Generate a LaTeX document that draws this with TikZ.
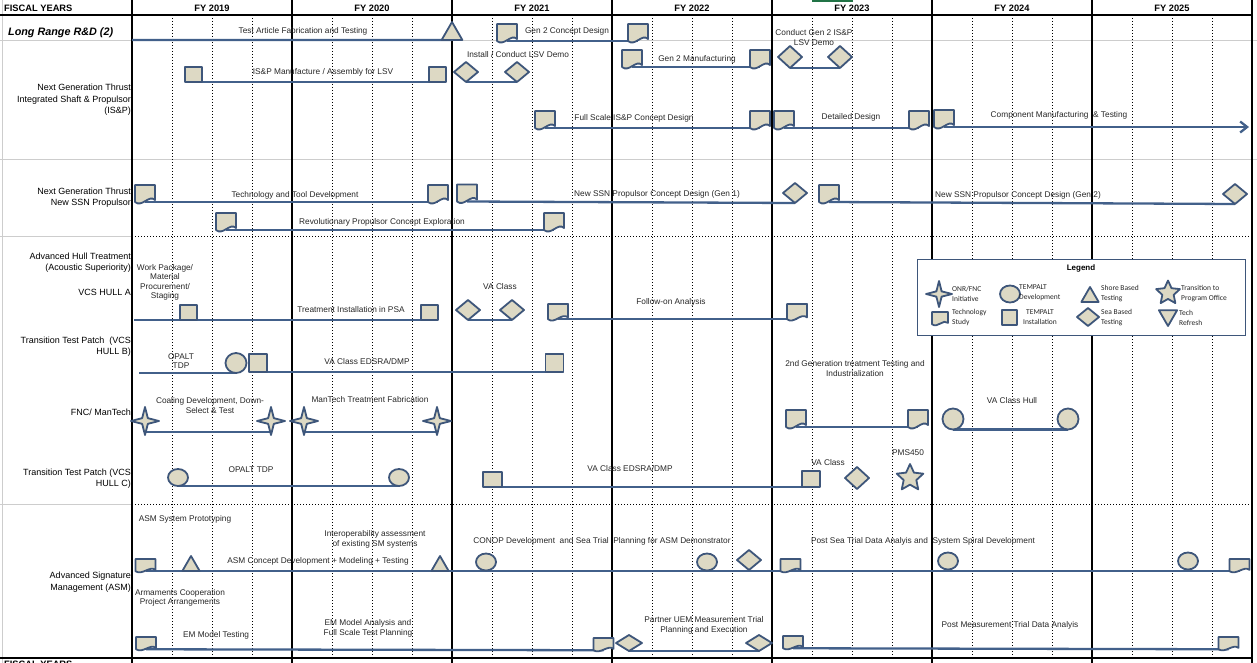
\documentclass[tikz,border=0pt]{standalone}
\usepackage{fontspec}
\setmainfont{Liberation Sans}
\newfontfamily\legendfont{Carlito}
\usetikzlibrary{shapes.geometric,shapes.misc,arrows.meta}
\definecolor{barline}{RGB}{66,96,138}
\definecolor{shapeline}{RGB}{62,86,122}
\definecolor{shapefill}{RGB}{221,217,196}
\definecolor{gridgray}{RGB}{205,205,205}
\definecolor{selgreen}{RGB}{33,115,70}
\pgfdeclarelayer{grid}
\pgfdeclarelayer{bars}
\pgfsetlayers{grid,bars,main}
\tikzset{
  qline/.style={black, line width=1pt, dash pattern=on 1pt off 2pt},
  yline/.style={black, line width=2.2pt},
  hdr/.style={font=\bfseries\fontsize{9.3}{10}\selectfont, inner sep=0},
  lbl/.style={font=\fontsize{8.3}{9.5}\selectfont, text=black!85, align=center, inner sep=0},
  rowlbl/.style={font=\fontsize{9}{11.5}\selectfont, align=right, anchor=east, inner sep=0},
  legtxt/.style={font=\legendfont\fontsize{7.5}{10}\selectfont, text=black!85, align=left, anchor=west, inner sep=0},
  bar/.style={draw=barline, line width=2.3pt},
  shapebox/.style={draw=shapeline, fill=shapefill, line width=1.8pt, line join=round, inner sep=0, outer sep=0},
  sq/.style={shapebox, rectangle, minimum width=17pt, minimum height=15pt},
  dmd/.style={shapebox, diamond, minimum width=24pt, minimum height=20pt},
  oval/.style={shapebox, ellipse, minimum width=21pt, minimum height=19pt},
  tri/.style={shapebox, regular polygon, regular polygon sides=3, minimum size=24pt},
  onr/.style={shapebox, star, star points=4, star point ratio=3.5, minimum size=28pt},
  pstar/.style={shapebox, star, star points=5, star point ratio=2.1, minimum size=28pt},
  pics/techdoc/.style={code={
    \path[shapebox] (-10,-9) -- (10,-9) -- (10,6) .. controls (4,0) and (-3,14) .. (-10,8) -- cycle;
    \coordinate (-b) at (0,8);
  }},
}
\begin{document}
\begin{tikzpicture}[x=1pt,y=-1pt]
\useasboundingbox (0,0) rectangle (1257,663);
\begin{pgfonlayer}{grid}
  % rows
  \draw[gridgray] (2,0) -- (2,663);
  \draw[gridgray] (0,40) -- (1257,40);
  \draw[gridgray] (0,159) -- (1257,159);
  \draw[gridgray] (0,236) -- (132,236);
  \draw[gridgray] (0,504) -- (132,504);
  \draw[qline] (132,236) -- (1252,236);
  \draw[qline] (132,504) -- (1252,504);
  \fill[selgreen] (812,0) rectangle (853,2);
  % quarters
  \foreach \x in {132,292,...,1092}
    \foreach \q in {40,80,120}
      \draw[qline] (\x+\q,15) -- (\x+\q,658);
  % years
  \foreach \x in {132,292,...,1252}
    \draw[yline] (\x,0) -- (\x,663);
  \draw[yline] (0,15) -- (1252,15);
  \draw[yline] (0,658) -- (1252,658);
\end{pgfonlayer}

% header
\node[hdr, anchor=west] (fy) at (4,8) {FISCAL YEARS};
\foreach \y [count=\i] in {2019,...,2025}
  \node[hdr] (fy\y) at (52+160*\i,8) {FY \y};
\node[hdr, anchor=west] (fyb) at (4,664) {FISCAL YEARS};

% row labels
\node[font=\bfseries\itshape\fontsize{10.8}{12}\selectfont, anchor=west, inner sep=0] (r1) at (8,33) {Long Range R\&D (2)};
\node[rowlbl] (r2) at (131,100) {Next Generation Thrust\\Integrated Shaft \& Propulsor\\(IS\&P)};
\node[rowlbl] (r3) at (131,197.5) {Next Generation Thrust\\New SSN Propulsor};
\node[rowlbl] (r4) at (131,262.5) {Advanced Hull Treatment\\(Acoustic Superiority)};
\node[rowlbl] (r4b) at (131,292) {VCS HULL A};
\node[rowlbl] (r5) at (131,346.5) {Transition Test Patch~ (VCS\\HULL B)};
\node[rowlbl] (r6) at (131,412) {FNC/ ManTech};
\node[rowlbl] (r7) at (131,478.5) {Transition Test Patch (VCS\\HULL C)};
\node[rowlbl] (r8) at (131,582) {Advanced Signature\\Management (ASM)};

% long range
\coordinate (lr0) at (132,40);
\node[tri] (lr1) at (452,34) {};
\pic (gc1) at (507,33) {techdoc};
\pic (gc2) at (638,33) {techdoc};
\node[lbl] (t1) at (303,31) {Test Article Fabrication and Testing};
\node[lbl] (t2) at (567,31) {Gen 2 Concept Design};

% is&p
\node[sq] (isp1) at (193.5,74.5) {};
\node[sq] (isp2) at (437.5,74.5) {};
\node[dmd] (lsv1) at (466,72) {};
\node[dmd] (lsv2) at (517,72) {};
\pic (gm1) at (632,59) {techdoc};
\pic (gm2) at (760,59) {techdoc};
\node[dmd, minimum height=22pt] (gd1) at (790,57) {};
\node[dmd, minimum height=22pt] (gd2) at (840,57) {};
\pic (fs1) at (545,120) {techdoc};
\pic (fs2) at (760,120) {techdoc};
\pic (dd1) at (784,120) {techdoc};
\pic (dd2) at (919,120) {techdoc};
\pic (cm1) at (944,119) {techdoc};
\coordinate (cmend) at (1249,127);
\node[lbl] (t3) at (323,72) {IS\&P Manufacture / Assembly for LSV};
\node[lbl] (t4) at (518,55) {Install / Conduct LSV Demo};
\node[lbl] (t5) at (697,59) {Gen 2 Manufacturing};
\node[lbl] (t6) at (814,37.5) {Conduct Gen 2 IS\&P\\LSV Demo};
\node[lbl] (t7) at (634,118) {Full Scale IS\&P Concept Design};
\node[lbl] (t8) at (851,117) {Detailed Design};
\node[lbl] (t9) at (1059,115) {Component Manufacturing~ \& Testing};

% new ssn
\pic (td1) at (145,194) {techdoc};
\pic (td2) at (438,194) {techdoc};
\pic (ga1) at (467,193.5) {techdoc};
\node[dmd] (ga2) at (795,193) {};
\pic (gb1) at (829,194) {techdoc};
\node[dmd] (gb2) at (1235,194) {};
\pic (rp1) at (226,222) {techdoc};
\pic (rp2) at (554,222) {techdoc};
\node[lbl] (t10) at (295,195) {Technology and Tool Development};
\node[lbl] (t11) at (657,194) {New SSN Propulsor Concept Design (Gen 1)};
\node[lbl] (t12) at (1018,195) {New SSN Propulsor Concept Design (Gen 2)};
\node[lbl] (t13) at (382,222) {Revolutionary Propulsor Concept Exploration};

% hull a
\coordinate (ha0) at (134,320);
\node[sq] (ha1) at (188.5,312.5) {};
\node[sq] (ha2) at (429.5,312.5) {};
\node[dmd] (va1) at (468,310) {};
\node[dmd] (va2) at (512,310) {};
\pic[yscale=.9] (fo1) at (558,312) {techdoc};
\pic[yscale=.9] (fo2) at (797,312) {techdoc};
\node[lbl] (t14) at (165,282.5) {Work Package/\\Material\\Procurement/\\Staging};
\node[lbl] (t15) at (500,287) {VA Class};
\node[lbl] (t16) at (351,310) {Treatment Installation in PSA};
\node[lbl] (t17) at (671,302) {Follow-on Analysis};

% hull b
\coordinate (hb0) at (139,373);
\node[oval, minimum height=20pt] (hb1) at (236,363) {};
\node[sq, minimum width=18pt, minimum height=18pt] (hb2) at (258,363) {};
\node[sq, minimum width=18pt, minimum height=18pt] (hb3) at (554.5,363) {};
\node[lbl] (t18) at (181,361) {OPALT\\TDP};
\node[lbl] (t19) at (367,362) {VA Class EDSRA/DMP};
\node[lbl] (t20) at (855,368.5) {2nd Generation treatment Testing and\\Industrialization};

% mantech
\node[onr] (fn1) at (145,421) {};
\node[onr] (fn2) at (271,421) {};
\node[onr] (fn3) at (304,421) {};
\node[onr] (fn4) at (437,421) {};
\pic (gg1) at (796,419) {techdoc};
\pic (gg2) at (918,419) {techdoc};
\node[oval, minimum height=21pt] (vh1) at (953,419) {};
\node[oval, minimum height=21pt] (vh2) at (1068,419) {};
\node[lbl] (t21) at (210,405.5) {Coaling Development, Down-\\Select \& Test};
\node[lbl] (t22) at (370,400) {ManTech Treatment Fabrication};
\node[lbl] (t23) at (1012,401) {VA Class Hull};

% hull c
\node[oval, minimum width=20pt, minimum height=17pt] (hc1) at (178,477.5) {};
\node[oval, minimum width=20pt, minimum height=17pt] (hc2) at (399,477.5) {};
\node[sq, minimum width=19pt] (hc3) at (492.5,479.5) {};
\node[sq, minimum width=18pt, minimum height=16pt] (hc4) at (811,479) {};
\node[dmd, minimum height=22pt] (hc5) at (857,478) {};
\node[pstar] (hc6) at (910,478) {};
\node[lbl] (t24) at (251,470) {OPALT TDP};
\node[lbl] (t25) at (630,469) {VA Class EDSRA/DMP};
\node[lbl] (t26) at (828,463) {VA Class};
\node[lbl] (t27) at (908,453) {PMS450};

% asm
\pic[yscale=.72] (am1) at (145.5,565.5) {techdoc};
\node[tri, minimum size=20pt] (am2) at (191,566) {};
\node[tri, minimum size=20pt] (am3) at (440,566) {};
\node[oval, minimum width=20pt, minimum height=17pt] (am4) at (486,562) {};
\node[oval, minimum width=20pt, minimum height=17pt] (am5) at (707,562) {};
\node[dmd] (am7) at (749,560) {};
\pic[yscale=.72] (am8) at (790.5,565.5) {techdoc};
\node[oval, minimum width=20pt, minimum height=17pt] (am9) at (948,561) {};
\node[oval, minimum width=20pt, minimum height=17pt] (am10) at (1188,561) {};
\pic[yscale=.72] (am6) at (1239.5,565.5) {techdoc};
\pic[yscale=.72] (em1) at (146,643.5) {techdoc};
\pic[yscale=.72] (em2) at (603.5,644.5) {techdoc};
\node[dmd, minimum width=26pt, minimum height=16pt] (em3) at (629,643) {};
\node[dmd, minimum width=26pt, minimum height=16pt] (em4) at (759,643) {};
\pic[yscale=.72] (em5) at (793,642.5) {techdoc};
\pic[yscale=.72] (em6) at (1228.5,643.5) {techdoc};
\node[lbl] (t28) at (185,519) {ASM System Prototyping};
\node[lbl] (t29) at (375,539.5) {Interoperability assessment\\of existing SM systems};
\node[lbl] (t30) at (318,561) {ASM Concept Development + Modeling + Testing};
\node[lbl] (t31) at (602,541) {CONOP Development~ and Sea Trial~ Planning for ASM Demonstrator};
\node[lbl] (t32) at (923,541) {Post Sea Trial Data Analyis and~ System Spiral Development};
\node[lbl] (t33) at (180,598) {Armaments Cooperation\\Project Arrangements};
\node[lbl] (t34) at (216,635) {EM Model Testing};
\node[lbl] (t35) at (368,628.5) {EM Model Analysis and\\Full Scale Test Planning};
\node[lbl] (t36) at (704,625.5) {Partner UEM Measurement Trial\\Planning and Execution};
\node[lbl] (t37) at (1010,625) {Post Measurement Trial Data Analyis};

% bars
\begin{pgfonlayer}{bars}
  \draw[bar] (lr0) -- (lr1.south);
  \draw[bar] (gc1-b) -- (gc2-b);
  \draw[bar] (isp1.south) -- (isp2.south);
  \draw[bar] (lsv1.south) -- (lsv2.south);
  \draw[bar] (gm1-b) -- (gm2-b);
  \draw[bar] (gd1.south) -- (gd2.south);
  \draw[bar] (fs1-b) -- (fs2-b);
  \draw[bar] (dd1-b) -- (dd2-b);
  \draw[bar, -{Straight Barb[length=7pt,width=11pt]}] (cm1-b) -- (cmend);
  \draw[bar] (td1-b) -- (td2-b);
  \draw[bar] (ga1-b) -- (ga2.south);
  \draw[bar] (gb1-b) -- (gb2.south);
  \draw[bar] (rp1-b) -- (rp2-b);
  \draw[bar] (ha0) -- (ha2.south);
  \draw[bar] (va1.south) -- (va2.south);
  \draw[bar] (fo1-b) -- (fo2-b);
  \draw[bar] (hb0) -- (hb1.south);
  \draw[bar] (hb2.south) -- (hb3.south);
  \draw[bar] ([yshift=-11pt]fn1.center) -- ([yshift=-11pt]fn2.center);
  \draw[bar] ([yshift=-11pt]fn3.center) -- ([yshift=-11pt]fn4.center);
  \draw[bar] (gg1-b) -- (gg2-b);
  \draw[bar] (vh1.south) -- (vh2.south);
  \draw[bar] (hc1.south) -- (hc2.south);
  \draw[bar] (hc3.south) -- (hc4.south);
  \draw[bar] (am1-b) -- (am6-b);
  \draw[bar] (em1-b) -- (em2-b);
  \draw[bar] (em3.south) -- (em4.south);
  \draw[bar] (em5-b) -- (em6-b);
\end{pgfonlayer}

% legend
\node[draw=shapeline, fill=white, line width=1pt, minimum width=328pt, minimum height=76pt, inner sep=0] (leg) at (1081,297) {};
\node[font=\bfseries\fontsize{8}{9}\selectfont, inner sep=0] (legt) at (1081,268) {Legend};
\node[onr, minimum size=26pt] (lg1) at (939,294) {};
\node[legtxt] (lgt1) at (952,293.5) {ONR/FNC\\Initiative};
\node[oval, minimum width=20pt, minimum height=17pt] (lg2) at (1010,294) {};
\node[legtxt] (lgt2) at (1019,293) {TEMPALT\\Development};
\node[tri, minimum size=20pt] (lg3) at (1090,297) {};
\node[legtxt] (lgt3) at (1101,293.5) {Shore Based\\Testing};
\node[pstar, minimum size=25pt] (lg4) at (1168,293) {};
\node[legtxt] (lgt4) at (1181,293.5) {Transition to\\Program Office};
\pic[xscale=.8, yscale=.72] (lg5) at (940,318.5) {techdoc};
\node[legtxt] (lgt5) at (952,317.5) {Technology\\Study};
\node[sq, minimum width=15pt, minimum height=15pt] (lg6) at (1009.5,317.5) {};
\node[legtxt, anchor=center, align=center] (lgt6) at (1040,317) {TEMPALT\\Installation};
\node[dmd, minimum width=22pt, minimum height=18pt] (lg7) at (1088,317) {};
\node[legtxt] (lgt7) at (1101,317.5) {Sea Based\\Testing};
\node[tri, minimum size=21pt, shape border rotate=180] (lg8) at (1168,315.5) {};
\node[legtxt] (lgt8) at (1179,317.5) {Tech\\Refresh};
\end{tikzpicture}
\end{document}
